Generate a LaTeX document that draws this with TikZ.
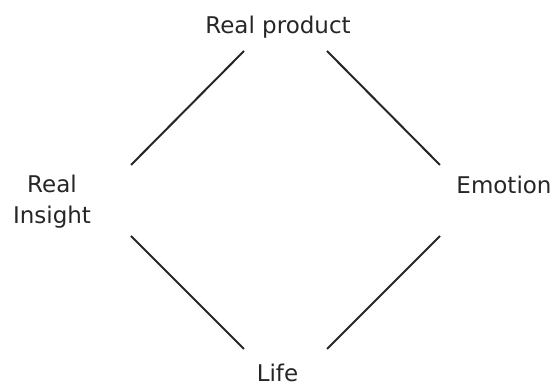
\documentclass[tikz,border=0pt]{standalone}
\usepackage{fontspec}
\setmainfont{DejaVu Sans}
\usetikzlibrary{positioning, calc}

\begin{document}
\begin{tikzpicture}[
			x=1pt, y=1pt,
			label/.style={font=\fontsize{23}{31}\selectfont, text=black!85, inner sep=0pt},
			link/.style={line width=2pt, black!85}
			]
			
			\useasboundingbox (0,0) rectangle (555,387);
			
			% --- Etiquetas ---
			\node[label, anchor=base] (product) at (278, 353) {Real product};
			\node[label, align=center] (insight) at (52, 185) {Real\\Insight};
			\node[label, anchor=base] (emotion) at (504, 193) {Emotion};
			\node[label, anchor=base] (life) at (277.5, 5) {Life};
			
			% --- Lineas del rombo ---
			\draw[link] ($(product.base)+(-34,-17)$) -- ($(insight.center)+(79,37)$);
			\draw[link] ($(product.base)+(49,-17)$) -- ($(emotion.base)+(-64,29)$);
			\draw[link] ($(insight.center)+(79,-34)$) -- ($(life.base)+(-33.5,33)$);
			\draw[link] ($(emotion.base)+(-64,-42)$) -- ($(life.base)+(49.5,33)$);
			
		\end{tikzpicture}
\end{document}
